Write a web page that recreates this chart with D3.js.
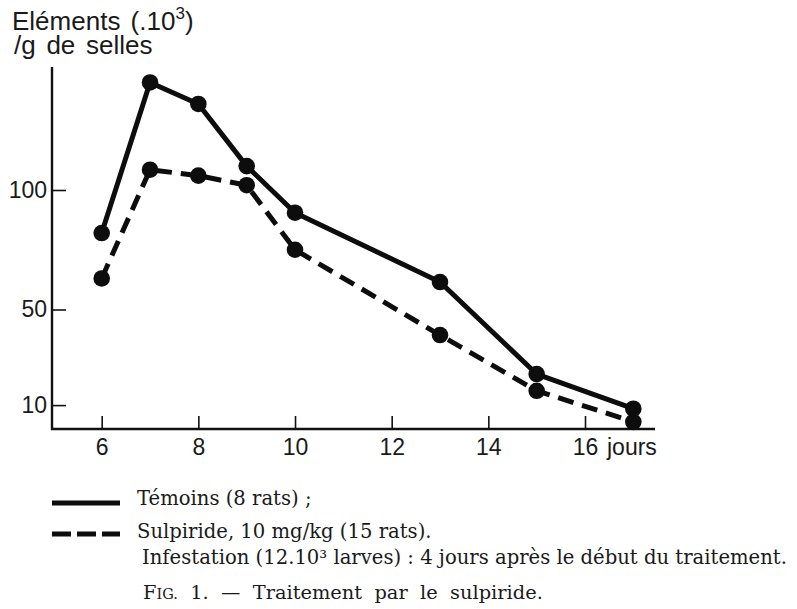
<!DOCTYPE html>
<html>
<head>
<meta charset="utf-8">
<script src="https://cdn.jsdelivr.net/npm/d3@7"></script>
<style>
  body { margin: 0; background: #fff; }
  svg { display: block; }
  .sans { font-family: "Liberation Sans", Arial, sans-serif; fill: #1a1a1a; }
  .serif { font-family: "DejaVu Serif", serif; fill: #1a1a1a; }
</style>
</head>
<body>
<svg width="797" height="609"></svg>
<script>
// days after start
var days = [6, 7, 8, 9, 10, 13, 15, 17];
var temoins = [82, 145, 136, 110, 90.5, 61.5, 23, 8.5];
var sulpiride = [63, 108.5, 106, 102, 75, 39.3, 16, 3];
var xTicks = [6, 8, 10, 12, 14, 16];
var yTicks = [10, 50, 100];

var svg = d3.select("svg");

var x = d3.scaleLinear().domain([6, 16]).range([101.7, 585]);
var y = d3.scaleLinear().domain([0, 100]).range([429, 190]);

// axes
var gx = svg.append("g")
    .attr("class", "sans")
    .attr("transform", "translate(0,429)")
    .call(d3.axisBottom(x).tickValues(xTicks).tickSizeInner(-13).tickSizeOuter(0).tickPadding(10));
gx.select(".domain").remove();
gx.selectAll(".tick line").attr("stroke", "#111").attr("stroke-width", 1.6);
gx.selectAll(".tick text")
    .attr("font-size", 23).attr("fill", "#1a1a1a")
    .attr("font-family", "Liberation Sans, Arial, sans-serif");

var gy = svg.append("g")
    .attr("transform", "translate(52,0)")
    .call(d3.axisLeft(y).tickValues(yTicks).tickSizeInner(-14).tickSizeOuter(0).tickPadding(5));
gy.select(".domain").remove();
gy.selectAll(".tick line").attr("stroke", "#111").attr("stroke-width", 1.6);
gy.selectAll(".tick text")
    .attr("font-size", 23).attr("fill", "#1a1a1a")
    .attr("font-family", "Liberation Sans, Arial, sans-serif");

svg.append("line").attr("x1", 52).attr("x2", 52).attr("y1", 67).attr("y2", 430)
    .attr("stroke", "#111").attr("stroke-width", 2.4);
svg.append("line").attr("x1", 51).attr("x2", 655).attr("y1", 429).attr("y2", 429)
    .attr("stroke", "#111").attr("stroke-width", 2.4);

svg.append("text").attr("class", "sans")
    .attr("x", x(16) + 22).attr("y", 429 + 10).attr("dy", "0.71em")
    .attr("font-size", 23)
    .text("jours");

// y title
var t1 = svg.append("text").attr("class", "sans")
    .attr("x", 12).attr("y", 30).attr("font-size", 26).attr("word-spacing", 3);
t1.append("tspan").text("Eléments (.10");
t1.append("tspan").attr("dy", -11).attr("font-size", 17).text("3");
t1.append("tspan").attr("dy", 11).text(")");
svg.append("text").attr("class", "sans")
    .attr("x", 14).attr("y", 54).attr("font-size", 26).attr("word-spacing", 3.5)
    .text("/g de selles");

// lines
var line = d3.line()
    .x(function(d) { return x(d[0]); })
    .y(function(d) { return y(d[1]); });

var series = [
  {name: "temoins", values: temoins, dash: null},
  {name: "sulpiride", values: sulpiride, dash: "16,9"}
];

series.forEach(function(s) {
  var pts = days.map(function(d, i) { return [d, s.values[i]]; });
  svg.append("path")
      .datum(pts)
      .attr("d", line)
      .attr("fill", "none")
      .attr("stroke", "#0d0d0d")
      .attr("stroke-width", 5)
      .attr("stroke-linejoin", "round")
      .attr("stroke-dasharray", s.dash);
  svg.append("g").selectAll("circle")
    .data(pts)
    .enter().append("circle")
      .attr("cx", function(d) { return x(d[0]); })
      .attr("cy", function(d) { return y(d[1]); })
      .attr("r", 8.3)
      .attr("fill", "#0d0d0d");
});

// legend
svg.append("line").attr("x1", 52).attr("x2", 120).attr("y1", 503).attr("y2", 503)
    .attr("stroke", "#0d0d0d").attr("stroke-width", 5);
svg.append("line").attr("x1", 52).attr("x2", 120).attr("y1", 534).attr("y2", 534)
    .attr("stroke", "#0d0d0d").attr("stroke-width", 5).attr("stroke-dasharray", "19,6");

var legendText = [
  {x: 137, y: 505, t: "Témoins (8 rats) ;"},
  {x: 137, y: 538, t: "Sulpiride, 10 mg/kg (15 rats)."},
  {x: 142, y: 564, t: "Infestation (12.10³ larves) : 4 jours après le début du traitement."}
];
svg.selectAll(".leg")
  .data(legendText)
  .enter().append("text")
    .attr("class", "serif leg")
    .attr("x", function(d) { return d.x; })
    .attr("y", function(d) { return d.y; })
    .attr("font-size", 19.6)
    .text(function(d) { return d.t; });

var cap = svg.append("text").attr("class", "serif")
    .attr("x", 143).attr("y", 599).attr("font-size", 19.4);
cap.append("tspan").text("F");
cap.append("tspan").attr("font-size", 14.5).text("IG.");
cap.append("tspan").attr("xml:space", "preserve").text("  1.  —  Traitement  par  le  sulpiride.");
</script>
</body>
</html>
